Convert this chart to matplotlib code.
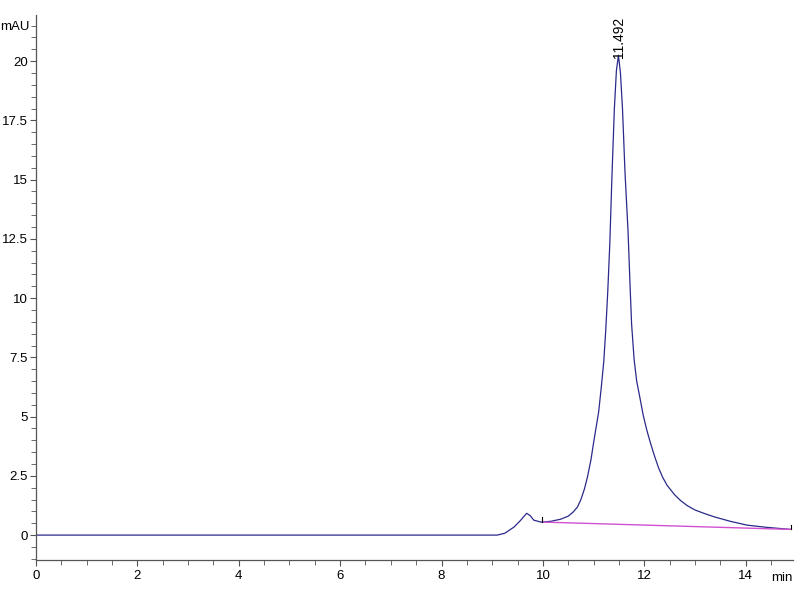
import matplotlib
matplotlib.use("Agg")
import matplotlib.pyplot as plt
from matplotlib.ticker import MultipleLocator, FuncFormatter

plt.rcParams['font.family'] = ['Liberation Sans', 'DejaVu Sans']

# chromatogram trace (min, mAU)
time_min = [0.0, 9.1, 9.25, 9.43, 9.55, 9.68, 9.75, 9.82, 9.96, 10.15, 10.35,
            10.5, 10.6, 10.68, 10.75, 10.82, 10.88, 10.95, 11.0, 11.05, 11.1,
            11.15, 11.2, 11.24, 11.28, 11.32, 11.36, 11.41, 11.45, 11.49,
            11.53, 11.57, 11.62, 11.68, 11.72, 11.75, 11.8, 11.85, 11.91,
            11.98, 12.05, 12.12, 12.2, 12.28, 12.36, 12.45, 12.6, 12.72,
            12.85, 13.0, 13.2, 13.38, 13.7, 14.03, 14.4, 14.89]
signal_mau = [0.0, 0.0, 0.08, 0.34, 0.6, 0.92, 0.82, 0.63, 0.55, 0.58, 0.67,
              0.8, 0.98, 1.18, 1.5, 1.95, 2.46, 3.2, 3.9, 4.55, 5.2,
              6.2, 7.3, 8.65, 10.3, 12.3, 15.0, 18.0, 19.6, 20.25,
              19.5, 18.0, 15.3, 12.8, 10.5, 8.9, 7.4, 6.5, 5.84,
              5.05, 4.43, 3.9, 3.35, 2.85, 2.45, 2.1, 1.7, 1.45,
              1.24, 1.06, 0.9, 0.77, 0.58, 0.42, 0.33, 0.24]

# integration baseline
base_t = [9.99, 14.89]
base_v = [0.55, 0.24]

peak_rt = 11.492
peak_h = 20.25

fig = plt.figure(figsize=(8, 6), dpi=100)
ax = fig.add_axes([0.045, 0.0667, 0.946, 0.908])

ax.plot(time_min, signal_mau, color='#2a2a8a', lw=0.9)
ax.plot(base_t, base_v, color='#d050d0', lw=1.0)
# baseline start / end markers
for t, v in zip(base_t, base_v):
    ax.plot([t, t], [v, v + 0.2], color='black', lw=0.8)

ax.text(peak_rt, peak_h - 0.1, f"{peak_rt:.3f}", rotation=90, ha='center',
        va='bottom', fontsize=10, clip_on=False)

ax.set_xlim(0, 14.93)
ax.set_ylim(-1.05, 21.94)

ax.spines['top'].set_visible(False)
ax.spines['right'].set_visible(False)
for s in ('left', 'bottom'):
    ax.spines[s].set_color('#555555')
    ax.spines[s].set_linewidth(0.9)

ax.xaxis.set_major_locator(MultipleLocator(2))
ax.xaxis.set_minor_locator(MultipleLocator(0.5))
ax.yaxis.set_major_locator(MultipleLocator(2.5))
ax.yaxis.set_minor_locator(MultipleLocator(0.5))
ax.yaxis.set_major_formatter(FuncFormatter(lambda v, p: f"{v:g}" if 0 <= v <= 20 else ""))
ax.tick_params(which='major', length=4.5, color='#555555', labelsize=9.5, pad=1.5)
ax.tick_params(axis='x', which='major', pad=3)
ax.tick_params(which='minor', length=3.5, color='#555555')

ax.text(-0.008, 0.979, "mAU", transform=ax.transAxes, ha='right', va='center', fontsize=9.5)
ax.text(1.0, -0.033, "min", transform=ax.transAxes, ha='right', va='center', fontsize=9.5)

fig.savefig("out.png", dpi=100)
